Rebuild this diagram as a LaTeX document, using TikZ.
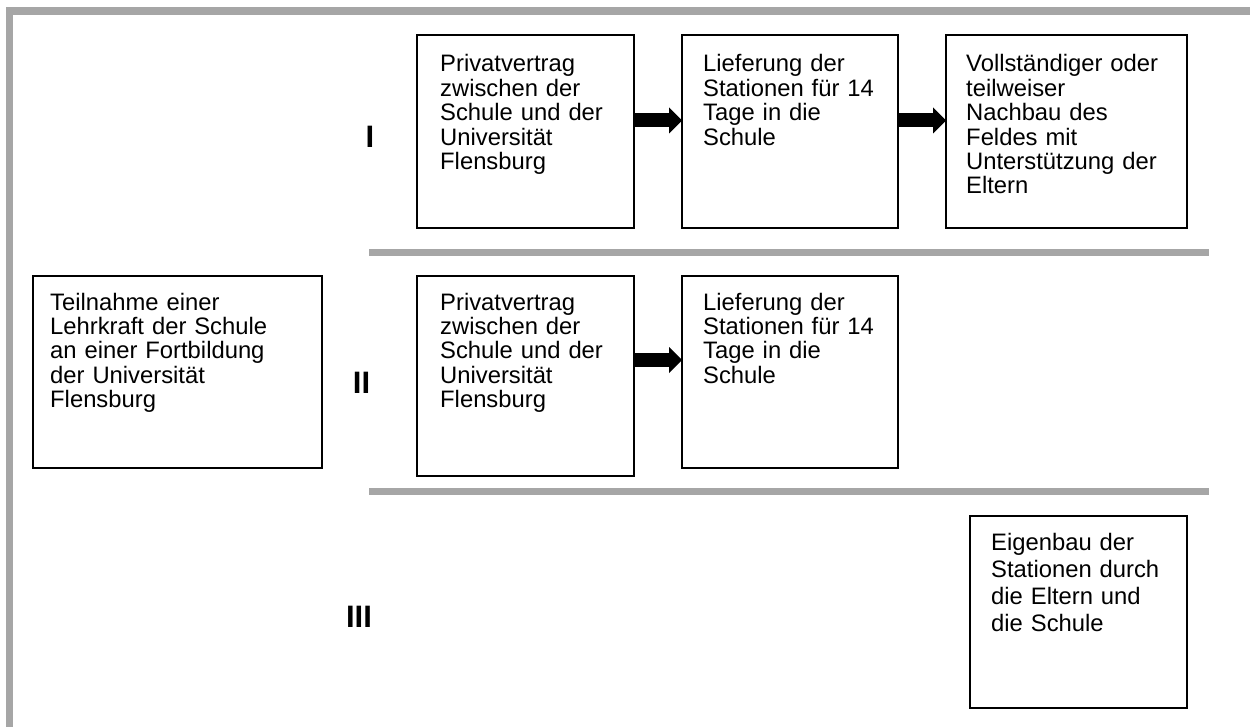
\documentclass[tikz,border=0pt]{standalone}
\usepackage{fontspec}
\setmainfont{Liberation Sans}
\usetikzlibrary{arrows.meta}
\definecolor{framegray}{RGB}{166,166,166}
\begin{document}
\begin{tikzpicture}[x=1pt,y=-1pt,
  box/.style={draw=black, line width=1.8pt, anchor=north west, inner sep=0pt, outer sep=0pt},
  txt/.style={anchor=base west, inner sep=0pt, align=left, text width=250pt,
              font=\fontsize{23.8}{24.4}\selectfont},
  txtwide/.style={anchor=base west, inner sep=0pt, align=left, text width=250pt,
              font=\fontsize{23.8}{27}\selectfont},
  lbl/.style={inner sep=0pt, font=\fontsize{31}{31}\selectfont\bfseries},
  blockarrow/.style={line width=14pt, black, -{Triangle[length=13pt,width=26pt,line width=0pt]}},
  sep/.style={fill=framegray}
]
\useasboundingbox (0,0) rectangle (1250,727);
\fill[white] (0,0) rectangle (1250,727);
% frame
\fill[framegray] (6,7) rectangle (1250,15);
\fill[framegray] (6,7) rectangle (13,727);
% separators
\fill[sep] (369,249) rectangle (1209,256);
\fill[sep] (369,488) rectangle (1209,495);
% row labels
\node[lbl] (lI) at (370,137) {I};
\node[lbl] (lII) at (361.5,383) {II};
\node[lbl] (lIII) at (359,616.5) {III};
% boxes
\node[box, minimum width=217pt, minimum height=193pt] (A) at (417,35) {};
\node[box, minimum width=216pt, minimum height=193pt] (B) at (682,35) {};
\node[box, minimum width=241pt, minimum height=193pt] (C) at (946,35) {};
\node[box, minimum width=289pt, minimum height=192pt] (L) at (33,276) {};
\node[box, minimum width=217pt, minimum height=200pt] (D) at (417,276) {};
\node[box, minimum width=216pt, minimum height=192pt] (E) at (682,276) {};
\node[box, minimum width=217pt, minimum height=192pt] (F) at (970,516) {};
% texts
\node[txt] (At) at (440,72) {Privatvertrag\\zwischen der\\Schule und der\\Universität\\Flensburg};
\node[txt] (Bt) at (703,72) {Lieferung der\\Stationen für 14\\Tage in die\\Schule};
\node[txt] (Ct) at (966,72) {Vollständiger oder\\teilweiser\\Nachbau des\\Feldes mit\\Unterstützung der\\Eltern};
\node[txt] (Lt) at (50,310) {Teilnahme einer\\Lehrkraft der Schule\\an einer Fortbildung\\der Universität\\Flensburg};
\node[txt] (Dt) at (440,310) {Privatvertrag\\zwischen der\\Schule und der\\Universität\\Flensburg};
\node[txt] (Et) at (703,310) {Lieferung der\\Stationen für 14\\Tage in die\\Schule};
\node[txtwide] (Ft) at (991,550) {Eigenbau der\\Stationen durch\\die Eltern und\\die Schule};
% arrows
\coordinate (r1) at (0,120.5);
\coordinate (r2) at (0,360);
\draw[blockarrow] (A.east |- r1) -- (B.west |- r1);
\draw[blockarrow] (B.east |- r1) -- (C.west |- r1);
\draw[blockarrow] (D.east |- r2) -- (E.west |- r2);
\end{tikzpicture}
\end{document}
